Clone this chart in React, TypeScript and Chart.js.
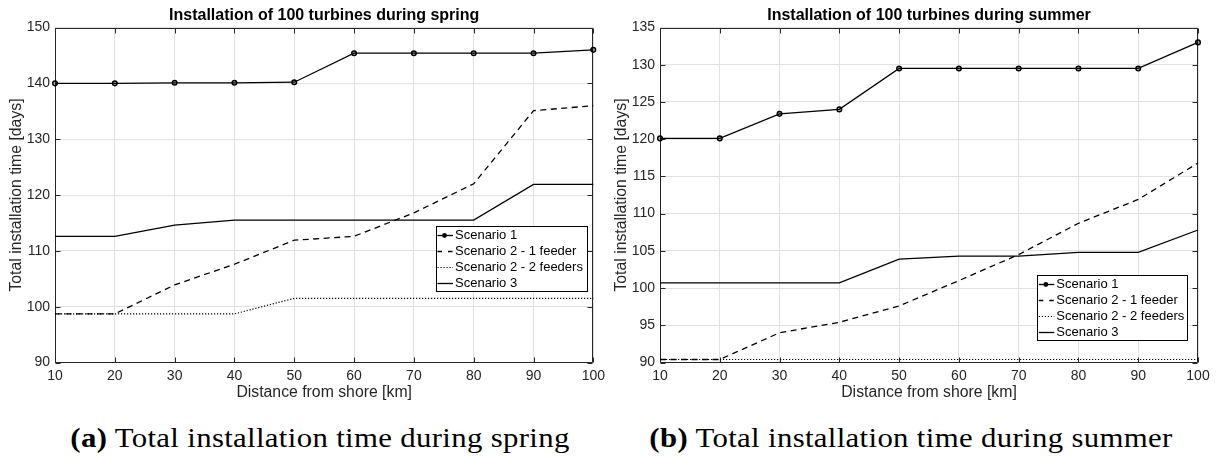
import React, { useEffect, useRef } from "react";
import { Chart, registerables } from "chart.js";

Chart.register(...registerables);

// ---- data -------------------------------------------------------------
const distances = [10, 20, 30, 40, 50, 60, 70, 80, 90, 100];
const xTickValues = [10, 20, 30, 40, 50, 60, 70, 80, 90, 100];

const seriesNames = [
  "Scenario 1",
  "Scenario 2 - 1 feeder",
  "Scenario 2 - 2 feeders",
  "Scenario 3",
];

// spring
const springScenario1 = [140.0, 140.0, 140.1, 140.1, 140.2, 145.4, 145.4, 145.4, 145.4, 146.0];
const springScenario2OneFeeder = [98.7, 98.7, 103.9, 107.6, 111.9, 112.6, 116.8, 122.0, 135.1, 136.0];
const springScenario2TwoFeeders = [98.7, 98.7, 98.7, 98.7, 101.5, 101.5, 101.5, 101.5, 101.5, 101.5];
const springScenario3 = [112.6, 112.6, 114.6, 115.5, 115.5, 115.5, 115.5, 115.5, 121.9, 121.9];
const springYTickValues = [90, 100, 110, 120, 130, 140, 150];

// summer
const summerScenario1 = [120.1, 120.1, 123.4, 124.0, 129.5, 129.5, 129.5, 129.5, 129.5, 133.0];
const summerScenario2OneFeeder = [90.4, 90.4, 94.0, 95.4, 97.6, 101.0, 104.5, 108.7, 111.9, 116.8];
const summerScenario2TwoFeeders = [90.4, 90.4, 90.4, 90.4, 90.4, 90.4, 90.4, 90.4, 90.4, 90.4];
const summerScenario3 = [100.7, 100.7, 100.7, 100.7, 103.9, 104.3, 104.3, 104.8, 104.8, 107.8];
const summerYTickValues = [90, 95, 100, 105, 110, 115, 120, 125, 130, 135];

// ---- styling ----------------------------------------------------------
const SANS = "'Liberation Sans', Arial, Helvetica, sans-serif";
const SERIF = "'Liberation Serif', 'Times New Roman', serif";
const INK = "#262626";
const GRID = "#e2e2e2";
const CANVAS_H = 402;

type LineStyle = { dash: number[]; width: number; marker: boolean };
const lineStyles: LineStyle[] = [
  { dash: [], width: 1.3, marker: true },
  { dash: [6, 4.5], width: 1.3, marker: false },
  { dash: [1.2, 1.8], width: 1.2, marker: false },
  { dash: [], width: 1.3, marker: false },
];

// Frame around the plot area with inward tick marks on all four sides
const framePlugin = {
  id: "axesFrame",
  beforeDatasetsDraw(chart: any) {
    const { ctx, chartArea: a, scales } = chart;
    const L = Math.round(a.left) + 0.5;
    const R = Math.round(a.right) - 0.5;
    const T = Math.round(a.top) + 0.5;
    const B = Math.round(a.bottom) - 0.5;
    const len = 5;
    ctx.save();
    ctx.strokeStyle = INK;
    ctx.lineWidth = 1;
    ctx.beginPath();
    ctx.rect(L, T, R - L, B - T);
    scales.x.ticks.forEach((t: any) => {
      const px = Math.round(scales.x.getPixelForValue(t.value)) + 0.5;
      ctx.moveTo(px, B);
      ctx.lineTo(px, B - len);
      ctx.moveTo(px, T);
      ctx.lineTo(px, T + len);
    });
    scales.y.ticks.forEach((t: any) => {
      const py = Math.round(scales.y.getPixelForValue(t.value)) + 0.5;
      ctx.moveTo(L, py);
      ctx.lineTo(L + len, py);
      ctx.moveTo(R, py);
      ctx.lineTo(R - len, py);
    });
    ctx.stroke();
    ctx.restore();
  },
};

// Boxed legend drawn inside the plot area
const insetLegendPlugin = {
  id: "insetLegend",
  afterDraw(chart: any, _args: any, opts: any) {
    if (!opts || !opts.box) return;
    const { ctx } = chart;
    const { x, y, w, h } = opts.box;
    ctx.save();
    ctx.fillStyle = "#ffffff";
    ctx.fillRect(x, y, w, h);
    ctx.strokeStyle = "#000";
    ctx.lineWidth = 1;
    ctx.strokeRect(Math.round(x) + 0.5, Math.round(y) + 0.5, Math.round(w), Math.round(h));
    ctx.font = `13px ${SANS}`;
    ctx.textBaseline = "middle";
    ctx.textAlign = "left";
    seriesNames.forEach((name, i) => {
      const st = lineStyles[i];
      const cy = Math.round(y + 9.5 + i * 16) + 0.5;
      const x0 = x + 1.5;
      const x1 = x + 17;
      ctx.strokeStyle = "#000";
      ctx.lineWidth = st.width;
      ctx.setLineDash(i === 1 ? [4.5, 6] : st.dash);
      ctx.beginPath();
      ctx.moveTo(x0, cy);
      ctx.lineTo(x1, cy);
      ctx.stroke();
      ctx.setLineDash([]);
      if (st.marker) {
        ctx.beginPath();
        ctx.arc(x + 8.5, cy, 2.4, 0, Math.PI * 2);
        ctx.fillStyle = "#000";
        ctx.fill();
      }
      ctx.fillStyle = "#000";
      ctx.fillText(name, x + 19, cy);
    });
    ctx.restore();
  },
};

type PanelSpec = {
  title: string;
  series: number[][];
  yTicks: number[];
  canvasLeft: number;
  canvasWidth: number;
  padRight: number;
  legendBox: { x: number; y: number; w: number; h: number };
};

function buildConfig(p: PanelSpec): any {
  const datasets = p.series.map((values, i) => {
    const st = lineStyles[i];
    return {
      label: seriesNames[i],
      data: distances.map((d, k) => ({ x: d, y: values[k] })),
      borderColor: "#000",
      backgroundColor: "#000",
      borderWidth: st.width,
      borderDash: st.dash,
      pointRadius: st.marker ? 2.3 : 0,
      pointBorderWidth: 1.5,
      pointBorderColor: "#000",
      pointBackgroundColor: "rgba(0,0,0,0.25)",
      tension: 0,
      clip: false,
      fill: false,
    };
  });

  const yStep = p.yTicks[1] - p.yTicks[0];

  return {
    type: "line",
    data: { datasets },
    plugins: [framePlugin, insetLegendPlugin],
    options: {
      responsive: false,
      animation: false,
      events: [],
      layout: { padding: { left: 0, right: p.padRight, top: 0, bottom: 0 } },
      scales: {
        x: {
          type: "linear",
          min: xTickValues[0],
          max: xTickValues[xTickValues.length - 1],
          afterBuildTicks: (s: any) => {
            s.ticks = xTickValues.map((v) => ({ value: v }));
          },
          afterFit: (s: any) => {
            s.height = CANVAS_H - 362.5;
          },
          ticks: {
            color: INK,
            font: { family: SANS, size: 14 },
            padding: 5,
            maxRotation: 0,
            autoSkip: false,
            stepSize: 10,
          },
          grid: { color: GRID, lineWidth: 1, drawTicks: false },
          border: { display: false },
          title: {
            display: true,
            text: "Distance from shore [km]",
            color: INK,
            font: { family: SANS, size: 15.8 },
            padding: { top: 0, bottom: 0 },
          },
        },
        y: {
          type: "linear",
          min: p.yTicks[0],
          max: p.yTicks[p.yTicks.length - 1],
          afterBuildTicks: (s: any) => {
            s.ticks = p.yTicks.map((v) => ({ value: v }));
          },
          afterFit: (s: any) => {
            s.width = 55;
          },
          ticks: {
            color: INK,
            font: { family: SANS, size: 14 },
            padding: 5,
            autoSkip: false,
            stepSize: yStep,
          },
          grid: { color: GRID, lineWidth: 1, drawTicks: false },
          border: { display: false },
          title: {
            display: true,
            text: "Total installation time [days]",
            color: INK,
            font: { family: SANS, size: 15.8 },
            padding: { top: 7.5, bottom: 0 },
          },
        },
      },
      plugins: {
        legend: { display: false },
        tooltip: { enabled: false },
        title: {
          display: true,
          text: p.title,
          fullSize: false,
          color: "#000",
          font: { family: SANS, size: 16, weight: "bold" },
          padding: { top: 6.4, bottom: 1.9 },
        },
        insetLegend: { box: p.legendBox },
      },
    },
  };
}

function Panel({ spec }: { spec: PanelSpec }) {
  const ref = useRef<HTMLCanvasElement | null>(null);
  useEffect(() => {
    if (!ref.current) return;
    const chart = new Chart(ref.current, buildConfig(spec));
    return () => chart.destroy();
  }, [spec]);
  return (
    <canvas
      ref={ref}
      width={spec.canvasWidth}
      height={CANVAS_H}
      style={{
        position: "absolute",
        left: spec.canvasLeft,
        top: 0,
        width: spec.canvasWidth,
        height: CANVAS_H,
      }}
    />
  );
}

const springPanel: PanelSpec = {
  title: "Installation of 100 turbines during spring",
  series: [springScenario1, springScenario2OneFeeder, springScenario2TwoFeeders, springScenario3],
  yTicks: springYTickValues,
  canvasLeft: 0,
  canvasWidth: 610,
  padRight: 13,
  legendBox: { x: 436, y: 225.5, w: 151, h: 64.5 },
};

const summerPanel: PanelSpec = {
  title: "Installation of 100 turbines during summer",
  series: [summerScenario1, summerScenario2OneFeeder, summerScenario2TwoFeeders, summerScenario3],
  yTicks: summerYTickValues,
  canvasLeft: 605,
  canvasWidth: 613,
  padRight: 20,
  legendBox: { x: 432.3, y: 274.5, w: 149.5, h: 65 },
};

function Caption({ tag, text, center }: { tag: string; text: string; center: number }) {
  return (
    <div
      style={{
        position: "absolute",
        left: center - 320,
        width: 640,
        top: 423.5,
        textAlign: "center",
        fontFamily: SERIF,
        fontSize: 28,
        lineHeight: "28px",
        color: "#000",
        whiteSpace: "nowrap",
        letterSpacing: "0.3px",
        transform: "scaleX(1.1)",
        transformOrigin: "50% 50%",
      }}
    >
      <b>{tag}</b> {text}
    </div>
  );
}

export default function App() {
  return (
    <div
      style={{
        position: "absolute",
        left: 0,
        top: 0,
        width: 1218,
        height: 456,
        background: "#ffffff",
        overflow: "hidden",
      }}
    >
      <Panel spec={springPanel} />
      <Panel spec={summerPanel} />
      <Caption tag="(a)" text="Total installation time during spring" center={320} />
      <Caption tag="(b)" text="Total installation time during summer" center={911} />
    </div>
  );
}
